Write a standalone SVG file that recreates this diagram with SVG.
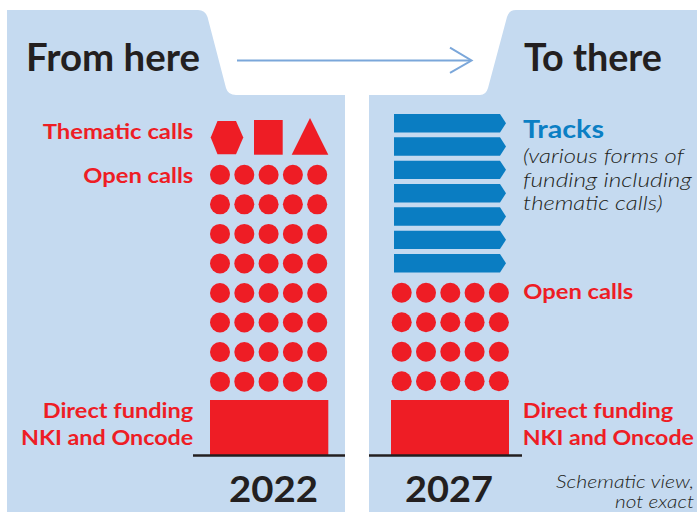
<svg xmlns="http://www.w3.org/2000/svg" width="697" height="512" viewBox="0 0 697 512">
<defs>
<style>
.panel{fill:#C5DAF0}
.red{fill:#EE1D25}
.trk{fill:#0A7DC2}
.t{font-family:Lato,"Liberation Sans",sans-serif}
.head{font-weight:700;font-size:38px;fill:#231F20}
.lbl{font-weight:700;font-size:21px;fill:#EE1D25}
.yr{font-weight:700;font-size:37px;fill:#231F20}
.it{font-style:italic;font-weight:300;fill:#231F20}
.base{stroke:#231F20;stroke-width:2.5}
</style>
<circle id="dot" r="10" class="red"/>
<path id="track" d="M0,0 H106 L112,9.2 L106,18.4 H0 Z" class="trk"/>
<g id="row5">
<use href="#dot" x="0"/><use href="#dot" x="24.3"/><use href="#dot" x="48.6"/><use href="#dot" x="72.9"/><use href="#dot" x="97.2"/>
</g>
</defs>
<rect width="697" height="512" fill="#ffffff"/>

<g id="panel-left">
<path class="panel" d="M7,10 H198 Q205,10 207.5,17 L226,88 Q228,95 236,95 H345 V512 H7 Z"/>
<text class="t head" x="26" y="71" textLength="174" lengthAdjust="spacingAndGlyphs">From here</text>
</g>

<g id="panel-right">
<path class="panel" d="M369,95 H480 Q486,95 488,88 L507,17 Q509,10 516,10 H697 V512 H369 Z"/>
<text class="t head" x="524" y="71" textLength="138" lengthAdjust="spacingAndGlyphs">To there</text>
</g>

<g id="connectors">
<line x1="237" y1="60.5" x2="471" y2="60.5" stroke="#7BA7DA" stroke-width="2"/>
<polyline points="450,47.7 471.5,60.5 450,72.8" fill="none" stroke="#7BA7DA" stroke-width="2"/>
</g>

<g id="thematic-calls-2022">
<text class="t lbl" x="193.3" y="139.3" text-anchor="end" textLength="150.6" lengthAdjust="spacingAndGlyphs">Thematic calls</text>
<polygon class="red" points="217.5,121 236,121 243.3,137.5 236,154.3 217.5,154.3 210.7,137.5"/>
<rect class="red" x="254" y="120" width="28.7" height="34.7"/>
<polygon class="red" points="310,118 328.3,154.7 291.7,154.7"/>
</g>

<g id="open-calls-2022">
<text class="t lbl" x="193.3" y="183.3" text-anchor="end" textLength="110" lengthAdjust="spacingAndGlyphs">Open calls</text>
<use href="#row5" x="220" y="174.8"/>
<use href="#row5" x="220" y="204.35"/>
<use href="#row5" x="220" y="233.9"/>
<use href="#row5" x="220" y="263.45"/>
<use href="#row5" x="220" y="293"/>
<use href="#row5" x="220" y="322.55"/>
<use href="#row5" x="220" y="352.1"/>
<use href="#row5" x="220" y="381.65"/>
</g>

<g id="direct-funding-2022">
<text class="t lbl" x="193.3" y="418" text-anchor="end" textLength="150.6" lengthAdjust="spacingAndGlyphs">Direct funding</text>
<text class="t lbl" x="193.3" y="445" text-anchor="end" textLength="172.3" lengthAdjust="spacingAndGlyphs">NKI and Oncode</text>
<rect class="red" x="210" y="400" width="118.3" height="55.5"/>
<line class="base" x1="193" y1="455.5" x2="345" y2="455.5"/>
<text class="t yr" x="229" y="501.7" textLength="89" lengthAdjust="spacingAndGlyphs">2022</text>
</g>

<g id="tracks-2027">
<use href="#track" x="394" y="114"/>
<use href="#track" x="394" y="137.33"/>
<use href="#track" x="394" y="160.67"/>
<use href="#track" x="394" y="184"/>
<use href="#track" x="394" y="207.33"/>
<use href="#track" x="394" y="230.67"/>
<use href="#track" x="394" y="254"/>
<text class="t" x="523" y="137.7" font-weight="700" font-size="25" fill="#0B7FC4" textLength="81" lengthAdjust="spacingAndGlyphs">Tracks</text>
<text class="t it" x="523" y="163.3" font-size="19.5" textLength="161" lengthAdjust="spacingAndGlyphs">(various forms of</text>
<text class="t it" x="523" y="187" font-size="19.5" textLength="168.7" lengthAdjust="spacingAndGlyphs">funding including</text>
<text class="t it" x="523" y="210.3" font-size="19.5" textLength="139.7" lengthAdjust="spacingAndGlyphs">thematic calls)</text>
</g>

<g id="open-calls-2027">
<use href="#row5" x="401.7" y="292.7"/>
<use href="#row5" x="401.7" y="322.2"/>
<use href="#row5" x="401.7" y="351.7"/>
<use href="#row5" x="401.7" y="381.2"/>
<text class="t lbl" x="523.3" y="299.3" textLength="110" lengthAdjust="spacingAndGlyphs">Open calls</text>
</g>

<g id="direct-funding-2027">
<rect class="red" x="391" y="400" width="118" height="55.5"/>
<line class="base" x1="369" y1="455.5" x2="522" y2="455.5"/>
<text class="t lbl" x="522.7" y="418" textLength="150.6" lengthAdjust="spacingAndGlyphs">Direct funding</text>
<text class="t lbl" x="522.7" y="445" textLength="171.3" lengthAdjust="spacingAndGlyphs">NKI and Oncode</text>
<text class="t yr" x="405" y="501.7" textLength="88" lengthAdjust="spacingAndGlyphs">2027</text>
</g>

<g id="note">
<text class="t it" x="694" y="488" font-size="17.5" text-anchor="end" textLength="138" lengthAdjust="spacingAndGlyphs">Schematic view,</text>
<text class="t it" x="694" y="507.5" font-size="17.5" text-anchor="end" textLength="79" lengthAdjust="spacingAndGlyphs">not exact</text>
</g>
</svg>
